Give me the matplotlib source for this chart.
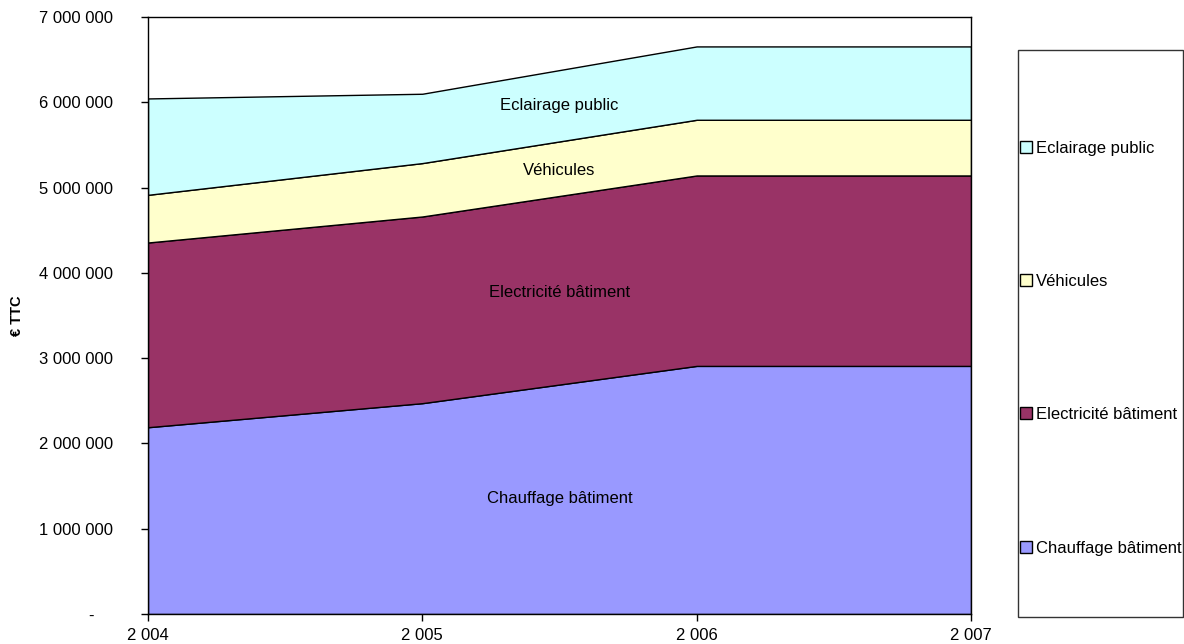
"""Stacked area chart: energy spending per year (€ TTC)."""

import matplotlib
matplotlib.use("Agg")
import matplotlib.pyplot as plt
from matplotlib.patches import Patch, Rectangle
from matplotlib.ticker import FuncFormatter

plt.rcParams["font.family"] = ["Liberation Sans", "DejaVu Sans"]

years = [2004, 2005, 2006, 2007]
series_names = ["Chauffage bâtiment", "Electricité bâtiment", "Véhicules", "Eclairage public"]
chauffage = [2190000, 2472000, 2909000, 2909000]
electricite = [2166000, 2189000, 2233000, 2233000]
vehicules = [559000, 626000, 653000, 653000]
eclairage = [1130000, 813000, 860000, 860000]
colors = ["#9999FF", "#993366", "#FFFFCC", "#CCFFFF"]

W, H = 1184, 644
fig = plt.figure(figsize=(W / 100, H / 100), dpi=100)
ax = fig.add_axes([148 / W, 30 / H, (971 - 148) / W, (614 - 17) / H])

ax.stackplot(years, chauffage, electricite, vehicules, eclairage,
             colors=colors, edgecolor="black", linewidth=1.0)

ax.set_xlim(years[0], years[-1])
ax.set_ylim(0, 7000000)
ax.set_xticks(years)
ax.set_yticks(range(0, 7000001, 1000000))


def fmt_num(v, _pos=None):
    if v == 0:
        return "-    "
    return f"{int(round(v)):,}".replace(",", " ")


ax.yaxis.set_major_formatter(FuncFormatter(fmt_num))
ax.xaxis.set_major_formatter(FuncFormatter(fmt_num))
ax.tick_params(axis="both", direction="out", length=5, width=1,
               labelsize=12, colors="black")
ax.tick_params(axis="y", pad=20)
ax.tick_params(axis="x", pad=5)
for sp in ax.spines.values():
    sp.set_color("black")
    sp.set_linewidth(1.0)

ax.set_ylabel("€ TTC", fontsize=10.5, fontweight="bold", labelpad=11)

# series labels inside the areas
label_y = [1360000, 3775000, 5206000, 5968000]
for name, y in zip(series_names, label_y):
    ax.text(2005.5, y, name, ha="center", va="center", fontsize=12)

# legend box
fig.patches.append(Rectangle((1018 / W, (H - 617) / H), 165 / W, 567 / H,
                             transform=fig.transFigure, facecolor="white",
                             edgecolor="#333333", linewidth=1.0, zorder=0))
handles = [Patch(facecolor=c, edgecolor="black", linewidth=1.0) for c in colors]
fig.legend(handles[::-1], series_names[::-1],
           loc="center left", bbox_to_anchor=(1020 / W, 1 - 348 / H),
           fontsize=12, frameon=False,
           handlelength=0.7, handleheight=0.7, handletextpad=0.25,
           labelspacing=7.1, borderpad=0, borderaxespad=0)

fig.savefig("out.png", dpi=100)
